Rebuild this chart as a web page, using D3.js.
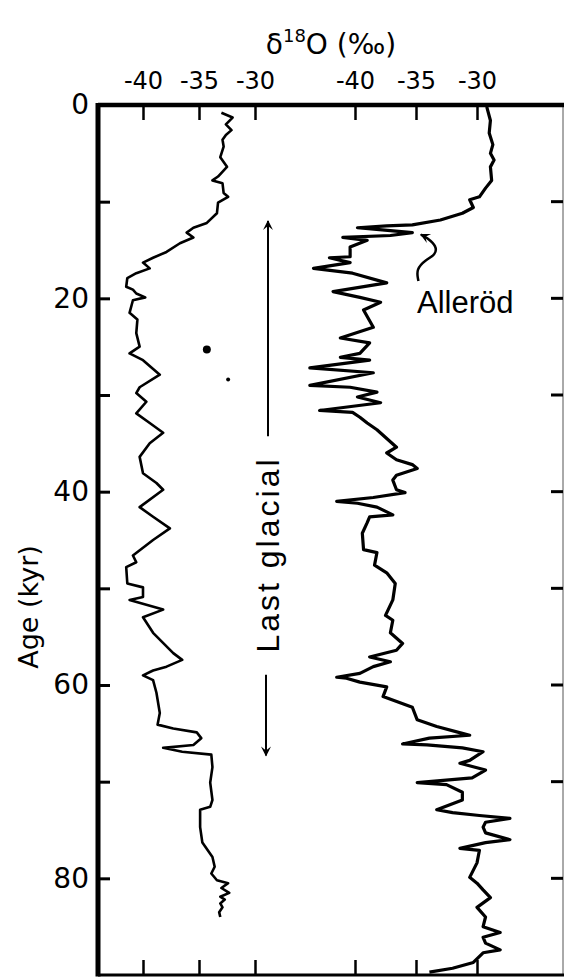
<!DOCTYPE html>
<html>
<head>
<meta charset="utf-8">
<script src="https://cdn.jsdelivr.net/npm/d3@7"></script>
<style>
  body { margin: 0; background: #fff; }
  svg { display: block; }
  text { fill: #000; }
</style>
</head>
<body>
<svg id="chart" width="564" height="978"></svg>
<script>
// ---- data (age in kyr, delta 18O in permil) ----
var leftAge = [0.8, 1.3, 2.0, 2.6, 3.1, 3.6, 4.3, 5.4, 6.4, 7.4, 7.8, 8.1, 9.1, 9.5, 10.1, 11.2, 12.2, 12.7, 13.2, 13.7,
  14.3, 15.2, 15.8, 16.3, 16.9, 17.4, 17.9, 18.8, 19.1, 19.5, 19.9, 20.2, 21.5, 22.2, 23.6, 25.0, 25.7, 26.4,
  27.9, 29.2, 29.8, 30.7, 31.9, 32.9, 33.9, 35.0, 36.4, 38.1, 39.1, 39.8, 41.6, 42.6, 43.8, 45.0, 46.6, 47.3,
  47.8, 49.5, 49.9, 50.9, 51.2, 52.2, 53.0, 54.6, 56.7, 57.4, 58.1, 58.5, 59.0, 59.5, 60.8, 62.9, 64.1, 64.5,
  64.9, 65.5, 66.2, 66.5, 66.9, 67.2, 68.5, 70.1, 71.9, 72.6, 72.9, 74.7, 76.3, 77.8, 78.8, 79.5, 80.2, 80.5,
  81.0, 81.5, 81.9, 82.2, 82.6, 83.0, 83.5, 84.0];
var leftD18O = [-33.0, -32.0, -32.6, -32.1, -32.6, -32.9, -32.8, -33.1, -32.5, -33.3, -33.8, -32.9, -32.8, -32.4, -33.3,
  -33.4, -34.3, -35.5, -36.1, -35.5, -36.7, -37.9, -39.1, -40.0, -39.4, -40.6, -41.4, -41.5, -40.9, -40.6, -39.8,
  -40.9, -41.2, -40.5, -40.6, -40.3, -41.2, -40.0, -38.5, -40.3, -40.6, -39.7, -40.6, -39.4, -38.2, -39.4, -40.3,
  -40.0, -38.8, -38.2, -40.3, -39.1, -37.6, -39.1, -40.9, -40.6, -41.5, -41.4, -40.0, -40.0, -41.2, -38.2, -40.0,
  -39.1, -37.3, -36.5, -37.9, -39.1, -40.0, -39.1, -38.8, -38.5, -38.7, -37.3, -35.2, -34.8, -35.5, -38.2, -36.5,
  -33.9, -33.8, -34.0, -33.8, -34.0, -34.9, -34.9, -34.7, -33.8, -33.6, -33.9, -33.4, -32.4, -33.0, -32.3, -33.1,
  -32.7, -33.1, -32.9, -33.2, -33.1];

var rightAge = [0.2, 1.6, 2.9, 4.1, 5.0, 5.7, 6.4, 7.8, 8.6, 9.5, 9.8, 10.6, 11.2, 11.9, 12.4, 12.5, 12.7, 12.9,
  13.2, 13.5, 13.7, 14.0, 14.7, 15.7, 15.8, 16.3, 16.9, 17.4, 18.4, 19.3, 19.9, 20.4, 21.2, 23.0, 24.1, 24.6,
  25.7, 26.1, 26.4, 27.2, 27.7, 29.0, 29.2, 29.7, 30.2, 30.8, 31.6, 31.8, 32.3, 32.9, 33.6, 35.4, 36.0, 36.7,
  37.2, 37.6, 38.3, 38.8, 39.8, 40.1, 40.6, 41.0, 41.2, 41.6, 42.4, 42.6, 43.2, 44.3, 46.0, 46.3, 47.6, 48.4,
  49.5, 51.2, 52.8, 53.3, 54.6, 55.7, 56.4, 57.1, 57.6, 58.1, 58.8, 59.2, 59.3, 59.7, 60.2, 61.2, 62.3, 63.6,
  64.3, 65.0, 65.2, 65.5, 66.1, 66.2, 66.5, 66.9, 67.8, 68.1, 68.8, 69.6, 70.1, 70.3, 71.1, 71.9, 72.9, 73.2,
  73.5, 73.8, 74.2, 74.7, 75.3, 76.0, 76.3, 76.9, 77.1, 78.4, 79.9, 80.5, 81.2, 82.0, 83.0, 84.0, 85.0, 85.6,
  86.1, 86.7, 87.4, 87.7, 88.7, 89.3, 89.7];
var rightD18O = [-29.2, -28.9, -29.0, -28.7, -28.9, -28.6, -28.9, -28.8, -29.3, -29.8, -30.6, -30.3, -31.2, -33.0,
  -35.3, -37.4, -39.8, -38.0, -35.3, -37.1, -41.0, -39.0, -40.4, -40.4, -42.1, -40.4, -43.4, -40.2, -37.4, -41.8,
  -39.6, -37.9, -39.3, -38.5, -41.2, -38.8, -39.6, -41.2, -38.8, -43.7, -38.5, -43.7, -40.4, -38.2, -39.8, -37.9,
  -42.9, -40.2, -39.6, -39.0, -38.2, -36.6, -37.4, -36.6, -35.3, -34.9, -36.6, -36.9, -36.6, -35.9, -38.5, -41.5,
  -39.8, -38.2, -36.9, -38.8, -39.0, -39.4, -39.3, -38.2, -38.4, -37.4, -36.7, -36.9, -37.5, -36.9, -37.1, -36.1,
  -36.6, -38.8, -37.1, -38.5, -39.6, -41.5, -40.7, -39.6, -37.4, -37.7, -35.3, -34.9, -33.3, -31.2, -30.6, -33.9,
  -36.1, -34.1, -31.2, -29.5, -30.6, -31.4, -29.3, -30.4, -34.9, -32.5, -31.2, -31.2, -33.3, -32.0, -29.8, -27.3,
  -29.3, -29.5, -29.3, -27.3, -29.3, -31.4, -29.8, -30.0, -30.6, -30.0, -29.5, -28.9, -30.0, -29.3, -29.5, -28.1,
  -29.5, -29.3, -28.1, -29.5, -30.3, -32.0, -33.9];

// two stray specks on the left panel
var strayAge = [25.3, 28.4];
var strayD18O = [-34.3, -32.4];

var ageTicks = [0, 20, 40, 60, 80];
var ageMinorTicks = [10, 30, 50, 70];
var edgeTicks = [10, 20, 30, 40, 50, 60, 70, 80];
var d18Ticks = [-40, -35, -30];
var glacialSpan = [12, 67.3];

// ---- layout ----
var svg = d3.select('#chart');
var top_ = 105, bottom = 975, left = 98, right = 563;

var y = d3.scaleLinear().domain([0, 90]).range([top_, bottom]);
var xL = d3.scaleLinear().domain([-40, -30]).range([143, 255]);
var xR = d3.scaleLinear().domain([-40, -30]).range([355, 477]);

var geo = "'DejaVu Sans', sans-serif";
var helv = "'Liberation Sans', Arial, sans-serif";

// frame
svg.append('line').attr('x1', right).attr('x2', right).attr('y1', top_).attr('y2', bottom)
  .attr('stroke', '#555').attr('stroke-width', 1);
svg.append('line').attr('x1', left).attr('x2', 564).attr('y1', top_).attr('y2', top_)
  .attr('stroke', '#000').attr('stroke-width', 4.5);
svg.append('line').attr('x1', left).attr('x2', 564).attr('y1', bottom).attr('y2', bottom)
  .attr('stroke', '#000').attr('stroke-width', 3);
svg.append('line').attr('x1', left).attr('x2', left).attr('y1', top_ - 2).attr('y2', bottom + 1.5)
  .attr('stroke', '#000').attr('stroke-width', 5);

// left age axis, ticks pointing inward
var ageAxis = d3.axisLeft(y).tickValues(ageTicks.concat(ageMinorTicks))
  .tickSize(-12).tickPadding(10)
  .tickFormat(function(d) { return ageTicks.indexOf(d) >= 0 ? d : ''; });
var gAge = svg.append('g').attr('transform', 'translate(' + left + ',0)').call(ageAxis);
gAge.select('.domain').remove();
gAge.selectAll('.tick line').attr('stroke', '#000').attr('stroke-width', 3);
gAge.selectAll('.tick text').attr('x', -9).style('font-family', geo).style('font-size', '28px')
  .attr('fill', '#000');

// right-edge ticks
svg.append('g').selectAll('line').data(edgeTicks).join('line')
  .attr('x1', right - 12).attr('x2', right).attr('y1', d => y(d)).attr('y2', d => y(d))
  .attr('stroke', '#000').attr('stroke-width', 3);

// top and bottom delta ticks for each panel
[xL, xR].forEach(function(sc) {
  var gTop = svg.append('g').attr('transform', 'translate(0,' + top_ + ')')
    .call(d3.axisTop(sc).tickValues(d18Ticks).tickSize(-15).tickPadding(16));
  gTop.select('.domain').remove();
  gTop.selectAll('.tick line').attr('stroke', '#000').attr('stroke-width', 2.5);
  gTop.selectAll('.tick text').style('font-family', geo).style('font-size', '24px')
    .attr('fill', '#000').text(d => '-' + Math.abs(d));
  var gBot = svg.append('g').attr('transform', 'translate(0,' + bottom + ')')
    .call(d3.axisBottom(sc).tickValues(d18Ticks).tickSize(-15).tickFormat(''));
  gBot.select('.domain').remove();
  gBot.selectAll('.tick line').attr('stroke', '#000').attr('stroke-width', 2.5);
});

// title, centred over the frame
var title = svg.append('text').attr('x', (left + 564) / 2).attr('y', 54).attr('text-anchor', 'middle')
  .style('font-family', geo).style('font-size', '28px');
title.append('tspan').text('δ');
title.append('tspan').attr('dy', -12).style('font-size', '18px').text('18');
title.append('tspan').attr('dy', 12).text('O (‰)');

// age label
svg.append('text').attr('transform', 'translate(38,607) rotate(-90)').attr('text-anchor', 'middle')
  .style('font-family', geo).style('font-size', '27px').text('Age (kyr)');

// curves
var lineL = d3.line().x(d => xL(d[1])).y(d => y(d[0]));
var lineR = d3.line().x(d => xR(d[1])).y(d => y(d[0]));
svg.append('path').datum(d3.zip(leftAge, leftD18O)).attr('d', lineL)
  .attr('fill', 'none').attr('stroke', '#000').attr('stroke-width', 2.6).attr('stroke-linejoin', 'round');
svg.append('path').datum(d3.zip(rightAge, rightD18O)).attr('d', lineR)
  .attr('fill', 'none').attr('stroke', '#000').attr('stroke-width', 3.2).attr('stroke-linejoin', 'round');

svg.append('g').selectAll('circle').data(d3.zip(strayAge, strayD18O)).join('circle')
  .attr('cx', d => xL(d[1])).attr('cy', d => y(d[0])).attr('r', (d, i) => i === 0 ? 4 : 2).attr('fill', '#000');

// "Last glacial" with arrows
var gx = 268;
var textTop = 34.9, textBot = 58.1;
svg.append('text').attr('transform', 'translate(' + (gx + 11) + ',' + y((textTop + textBot) / 2) + ') rotate(-90)')
  .attr('text-anchor', 'middle').style('font-family', helv).style('font-size', '32px')
  .style('letter-spacing', '3px').text('Last glacial');
svg.append('defs').append('marker').attr('id', 'ah').attr('viewBox', '0 0 10 10')
  .attr('refX', 9).attr('refY', 5).attr('markerWidth', 14).attr('markerHeight', 10)
  .attr('markerUnits', 'userSpaceOnUse').attr('orient', 'auto')
  .append('path').attr('d', 'M0,0 L10,5 L0,10 L4,5 Z').attr('fill', '#000');
svg.append('line').attr('x1', gx).attr('x2', gx).attr('y1', y(textTop) - 6).attr('y2', y(glacialSpan[0]))
  .attr('stroke', '#000').attr('stroke-width', 2).attr('marker-end', 'url(#ah)');
svg.append('line').attr('x1', gx - 2).attr('x2', gx - 2).attr('y1', y(textBot) + 8).attr('y2', y(glacialSpan[1]))
  .attr('stroke', '#000').attr('stroke-width', 2).attr('marker-end', 'url(#ah)');

// Allerod pointer
var pointer = [[-34.8, 18.2], [-35.0, 17.0], [-34.2, 16.0], [-33.4, 15.5], [-33.3, 14.6], [-34.1, 13.7], [-34.6, 13.4]];
svg.append('path').datum(pointer)
  .attr('d', d3.line().x(d => xR(d[0])).y(d => y(d[1])).curve(d3.curveBasis))
  .attr('fill', 'none').attr('stroke', '#000').attr('stroke-width', 2.5).attr('marker-end', 'url(#ah)');
svg.append('text').attr('x', 417).attr('y', 313).style('font-family', helv).style('font-size', '31px')
  .text('Alleröd');
</script>
</body>
</html>
